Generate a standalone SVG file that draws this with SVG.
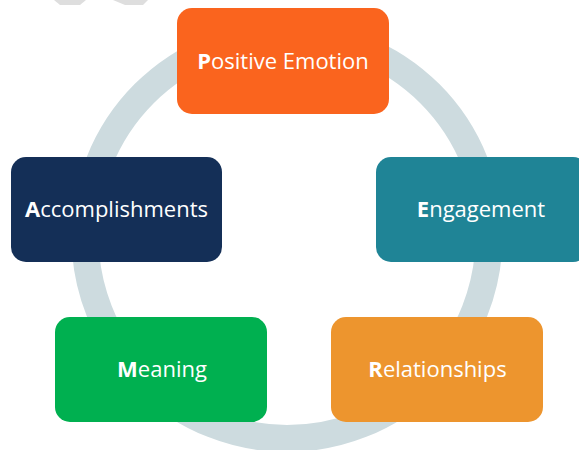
<svg xmlns="http://www.w3.org/2000/svg" width="579" height="450" viewBox="0 0 579 450">
  <style>
    .box { stroke: none; }
    .lbl { font-family: "Open Sans", "Liberation Sans", sans-serif; font-size: 22px; fill: #ffffff; text-anchor: middle; }
    .lbl tspan.b { font-weight: bold; }
  </style>
  <rect width="579" height="450" fill="#ffffff"/>
  <g id="watermark" fill="#dedede">
    <polygon points="54,0 86,0 80,5 60,5"/>
    <polygon points="113,0 148,0 143,5 125,5"/>
  </g>
  <g id="connectors">
    <circle cx="287" cy="236.5" r="202" fill="none" stroke="#cddbdf" stroke-width="27"/>
  </g>
  <g id="positive-emotion">
    <rect class="box" x="177" y="8" width="212" height="106" rx="15" fill="#fa641e"/>
    <text class="lbl" x="283" y="69"><tspan class="b">P</tspan>ositive Emotion</text>
  </g>
  <g id="accomplishments">
    <rect class="box" x="11" y="157" width="211" height="105" rx="15" fill="#142f57"/>
    <text class="lbl" x="116.5" y="217"><tspan class="b">A</tspan>ccomplishments</text>
  </g>
  <g id="engagement">
    <rect class="box" x="376" y="157" width="212" height="105" rx="15" fill="#1f8496"/>
    <text class="lbl" x="481" y="217"><tspan class="b">E</tspan>ngagement</text>
  </g>
  <g id="meaning">
    <rect class="box" x="55" y="317" width="212" height="105" rx="15" fill="#00b050"/>
    <text class="lbl" x="162" y="377"><tspan class="b">M</tspan>eaning</text>
  </g>
  <g id="relationships">
    <rect class="box" x="331" y="317" width="212" height="105" rx="15" fill="#ed952e"/>
    <text class="lbl" x="437.5" y="377"><tspan class="b">R</tspan>elationships</text>
  </g>
</svg>
